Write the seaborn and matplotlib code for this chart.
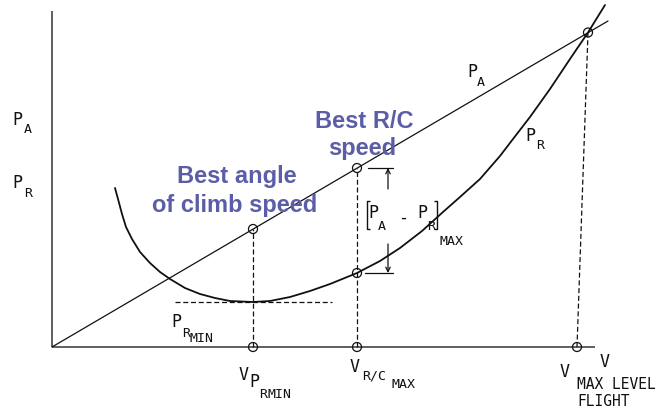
import numpy as np
import pandas as pd
import matplotlib
matplotlib.use("Agg")
import matplotlib.pyplot as plt
import seaborn as sns

# Power required curve: airspeed vs power
v_req = [12.6, 13.2, 14.0, 14.8, 16.0, 17.6, 19.6, 21.6, 23.6, 26.6, 29.6, 32.6,
         35.6, 40.2, 43.6, 47.6, 51.6, 55.6, 61.0, 65.6, 69.6, 74.0, 78.2, 81.6,
         85.6, 89.6, 92.2, 95.6, 99.6, 103.6, 107.2, 110.6]
p_req = [31.8, 29.6, 26.6, 24.0, 21.6, 19.0, 16.8, 15.0, 13.6, 11.8, 10.6, 9.8,
         9.2, 9.0, 9.2, 10.0, 11.2, 12.6, 14.8, 17.2, 19.8, 23.2, 27.0, 30.0,
         33.6, 38.2, 41.6, 46.0, 51.6, 57.6, 62.9, 68.4]

# Power available line
v_avail = [0.0, 111.2]
p_avail = [0.0, 65.2]

# Characteristic speeds and powers
v_pr_min = 40.2
v_best_rc = 61.0
v_max = 107.2
v_max_foot = 105.0
pr_min = 9.0
pa_at_pr_min = 23.6
pa_at_best_rc = 35.8
pr_at_best_rc = 14.8
p_at_v_max = 62.9

# Axis extents
v_axis_end = 108.6
p_axis_end = 67.2

W, H = 660, 414
sns.set_style("white")
fig = plt.figure(figsize=(W / 100, H / 100), dpi=100)
ax = fig.add_axes([0, 0, 1, 1])
ax.set_xlim(-10.4, 121.6)
ax.set_ylim(-13.2, 69.6)
ax.axis("off")

ink = "#111111"
blue = "#5b5ea6"

# axes
ax.plot([0, v_axis_end], [0, 0], color="#444444", lw=1.2, solid_capstyle="butt")
ax.plot([0, 0], [0, p_axis_end], color="#444444", lw=1.2, solid_capstyle="butt")

# curves
sns.lineplot(x=v_avail, y=p_avail, color=ink, lw=0.9, ax=ax)
req = pd.DataFrame({"V": v_req, "P": p_req})
sns.lineplot(data=req, x="V", y="P", sort=False, estimator=None,
             color=ink, lw=1.3, ax=ax)

# dashed construction lines
dash = dict(color=ink, lw=0.9, ls=(0, (4, 2.2)))
ax.plot([v_pr_min, v_pr_min], [0, pa_at_pr_min], **dash)
ax.plot([v_best_rc, v_best_rc], [0, pa_at_best_rc], **dash)
ax.plot([v_max, v_max_foot], [p_at_v_max, 0], **dash)
ax.plot([24.6, 56.0], [pr_min, pr_min], **dash)

# marked points
pts_v = [v_pr_min, v_pr_min, v_best_rc, v_best_rc, v_best_rc, v_max, v_max_foot]
pts_p = [pa_at_pr_min, 0, pa_at_best_rc, pr_at_best_rc, 0, p_at_v_max, 0]
sns.scatterplot(x=pts_v, y=pts_p, marker="o", s=42, facecolors="none",
                edgecolor=ink, linewidth=0.9, ax=ax, zorder=5)

# excess power dimension
ax.plot([63.2, 68.2], [pa_at_best_rc] * 2, color=ink, lw=0.9)
ax.plot([62.6, 68.2], [pr_at_best_rc] * 2, color=ink, lw=0.9)
arrow = dict(arrowstyle="->", lw=0.9, color=ink, shrinkA=0, shrinkB=0,
             mutation_scale=8)
ax.annotate("", xy=(67.2, pa_at_best_rc), xytext=(67.2, 31.6), arrowprops=arrow)
ax.annotate("", xy=(67.2, pr_at_best_rc), xytext=(67.2, 20.6), arrowprops=arrow)

# square brackets around the excess power label
br = dict(color=ink, lw=1.0, solid_capstyle="butt")
ax.plot([63.5, 62.9, 62.9, 63.5], [29.2, 29.2, 23.6, 23.6], **br)
ax.plot([76.3, 76.9, 76.9, 76.3], [29.2, 29.2, 23.6, 23.6], **br)

mono = "DejaVu Sans Mono"


def label(x, y, s, size=11.5, **kw):
    ax.annotate(s, xy=(x, H - y), xycoords="figure pixels", fontsize=size,
                family=mono, va="baseline", ha="left", color=ink, **kw)


big, sub = 12, 9.5
# y-axis labels
label(12, 125, "P", big); label(24, 133, "A", sub)
label(12, 188, "P", big); label(24, 197, "R", sub)
# curve labels
label(467, 77, "P", big); label(477, 86, "A", sub)
label(525, 141, "P", big); label(536, 149, "R", sub)
# minimum power required
label(171, 327, "P", big); label(182, 337, "R", sub); label(190, 342, "MIN", sub)
# speed labels
label(600, 367, "V", big)
label(239, 380, "V", big); label(249, 387, "P", big); label(259, 398, "R", sub)
label(268, 398, "MIN", sub)
label(350, 372, "V", big); label(362, 380, "R/C", sub); label(392, 388, "MAX", sub)
label(560, 377, "V", big)
label(577, 389, "MAX LEVEL", 10.5)
label(577, 406, "FLIGHT", 10.5)
# excess power label
label(368, 218, "P", big); label(378, 230, "A", sub)
label(398, 223, "-", big)
label(417, 218, "P", big); label(427, 230, "R", sub)
label(440, 245, "MAX", sub)

# highlighted callouts
callout = dict(xycoords="figure pixels", fontsize=17, family="Liberation Sans",
               fontweight="bold", color=blue, ha="center", va="baseline",
               zorder=10)
ax.annotate("Best angle", xy=(237, H - 183), **callout)
ax.annotate("of climb speed", xy=(235, H - 212), **callout)
ax.annotate("Best R/C", xy=(364, H - 128), **callout)
ax.annotate("speed", xy=(362, H - 155), **callout)

fig.savefig("out.png", dpi=100)
